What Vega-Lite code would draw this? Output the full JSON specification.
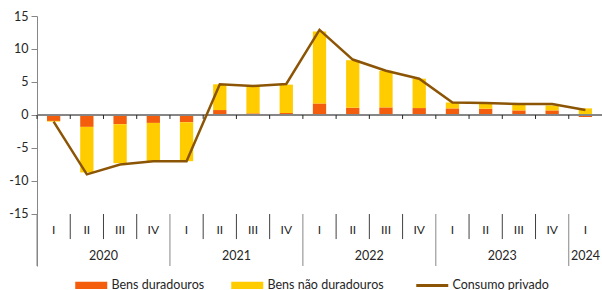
{
  "$schema": "https://vega.github.io/schema/vega-lite/v6.json",
  "width": 565,
  "height": 250,
  "autosize": {"type": "none"},
  "padding": {"left": 37, "top": 16, "right": 0, "bottom": 24},
  "background": "white",
  "config": {
    "font": "Lato",
    "view": {"stroke": null},
    "axis": {"labelFont": "Lato", "labelFontSize": 12.5, "labelColor": "#262626", "domainColor": "#868686", "tickColor": "#868686", "grid": false}
  },
  "datasets": {
    "parts": [
      {"q": "2020-I", "series": "Bens duradouros", "value": -0.9},
      {"q": "2020-I", "series": "Bens não duradouros", "value": -0.1},
      {"q": "2020-II", "series": "Bens duradouros", "value": -1.8},
      {"q": "2020-II", "series": "Bens não duradouros", "value": -6.9},
      {"q": "2020-III", "series": "Bens duradouros", "value": -1.4},
      {"q": "2020-III", "series": "Bens não duradouros", "value": -5.9},
      {"q": "2020-IV", "series": "Bens duradouros", "value": -1.2},
      {"q": "2020-IV", "series": "Bens não duradouros", "value": -5.8},
      {"q": "2021-I", "series": "Bens duradouros", "value": -1.1},
      {"q": "2021-I", "series": "Bens não duradouros", "value": -5.9},
      {"q": "2021-II", "series": "Bens duradouros", "value": 0.75},
      {"q": "2021-II", "series": "Bens não duradouros", "value": 3.9},
      {"q": "2021-III", "series": "Bens duradouros", "value": 0.25},
      {"q": "2021-III", "series": "Bens não duradouros", "value": 4.15},
      {"q": "2021-IV", "series": "Bens duradouros", "value": 0.3},
      {"q": "2021-IV", "series": "Bens não duradouros", "value": 4.3},
      {"q": "2022-I", "series": "Bens duradouros", "value": 1.75},
      {"q": "2022-I", "series": "Bens não duradouros", "value": 10.9},
      {"q": "2022-II", "series": "Bens duradouros", "value": 1.1},
      {"q": "2022-II", "series": "Bens não duradouros", "value": 7.2},
      {"q": "2022-III", "series": "Bens duradouros", "value": 1.15},
      {"q": "2022-III", "series": "Bens não duradouros", "value": 5.55},
      {"q": "2022-IV", "series": "Bens duradouros", "value": 1.05},
      {"q": "2022-IV", "series": "Bens não duradouros", "value": 4.45},
      {"q": "2023-I", "series": "Bens duradouros", "value": 1.0},
      {"q": "2023-I", "series": "Bens não duradouros", "value": 0.9},
      {"q": "2023-II", "series": "Bens duradouros", "value": 0.95},
      {"q": "2023-II", "series": "Bens não duradouros", "value": 0.85},
      {"q": "2023-III", "series": "Bens duradouros", "value": 0.7},
      {"q": "2023-III", "series": "Bens não duradouros", "value": 0.9},
      {"q": "2023-IV", "series": "Bens duradouros", "value": 0.7},
      {"q": "2023-IV", "series": "Bens não duradouros", "value": 0.75},
      {"q": "2024-I", "series": "Bens duradouros", "value": -0.3},
      {"q": "2024-I", "series": "Bens não duradouros", "value": 1.0}
    ],
    "totals": [
      {"q": "2020-I", "label": "I", "year": "2020", "total": -1.0},
      {"q": "2020-II", "label": "II", "year": "2020", "total": -9.0},
      {"q": "2020-III", "label": "III", "year": "2020", "total": -7.5},
      {"q": "2020-IV", "label": "IV", "year": "2020", "total": -7.0},
      {"q": "2021-I", "label": "I", "year": "2021", "total": -7.0},
      {"q": "2021-II", "label": "II", "year": "2021", "total": 4.65},
      {"q": "2021-III", "label": "III", "year": "2021", "total": 4.4},
      {"q": "2021-IV", "label": "IV", "year": "2021", "total": 4.7},
      {"q": "2022-I", "label": "I", "year": "2022", "total": 12.9},
      {"q": "2022-II", "label": "II", "year": "2022", "total": 8.4},
      {"q": "2022-III", "label": "III", "year": "2022", "total": 6.7},
      {"q": "2022-IV", "label": "IV", "year": "2022", "total": 5.5},
      {"q": "2023-I", "label": "I", "year": "2023", "total": 1.9},
      {"q": "2023-II", "label": "II", "year": "2023", "total": 1.8},
      {"q": "2023-III", "label": "III", "year": "2023", "total": 1.65},
      {"q": "2023-IV", "label": "IV", "year": "2023", "total": 1.65},
      {"q": "2024-I", "label": "I", "year": "2024", "total": 0.75}
    ]
  },
  "layer": [
    {
      "data": {"name": "parts"},
      "mark": {"type": "bar", "width": {"band": 0.4}},
      "encoding": {
        "x": {"field": "q", "type": "nominal", "sort": "ascending", "scale": {"paddingInner": 0, "paddingOuter": 0}, "axis": null},
        "y": {"field": "value", "type": "quantitative", "stack": "zero",
              "scale": {"domain": [-22.88, 15], "nice": false, "zero": false},
              "axis": {"values": [-15, -10, -5, 0, 5, 10, 15], "title": null, "tickSize": 6, "labelPadding": 3, "labelExpr": "'' + datum.value"}},
        "order": {"field": "series", "type": "nominal", "sort": "ascending"},
        "color": {"field": "series", "type": "nominal",
          "scale": {"domain": ["Bens duradouros", "Bens não duradouros", "Consumo privado"], "range": ["#F45D0B", "#FFCC00", "#8C5505"]},
          "legend": {
            "orient": "none", "legendX": 48, "legendY": 263, "direction": "horizontal", "title": null,
            "symbolSize": 1024, "columnPadding": 26, "labelFontSize": 12.5, "labelColor": "#262626", "labelFont": "Lato", "labelOffset": 14,
            "encode": {"symbols": {"update": {
              "shape": {"signal": "datum.value === 'Consumo privado' ? 'stroke' : 'M-1,-0.22H1V0.22H-1Z'"},
              "strokeWidth": {"signal": "datum.value === 'Consumo privado' ? 3 : 0"},
              "stroke": {"signal": "scale('color', datum.value)"},
              "fill": {"signal": "datum.value === 'Consumo privado' ? 'transparent' : scale('color', datum.value)"},
              "opacity": {"value": 1},
              "fillOpacity": {"value": 1}
            }}}
          }}
      }
    },
    {
      "data": {"name": "totals"},
      "mark": {"type": "rule", "color": "#868686", "strokeWidth": 1},
      "encoding": {"y": {"datum": 0}}
    },
    {
      "data": {"name": "totals"},
      "mark": {"type": "rule", "color": "#262626", "strokeWidth": 1},
      "encoding": {
        "x": {"field": "q", "type": "nominal", "bandPosition": 0},
        "y": {"datum": 0},
        "y2": {"datum": -0.6}
      }
    },
    {
      "data": {"name": "totals"},
      "transform": [{"filter": "datum.label !== 'I'"}],
      "mark": {"type": "rule", "color": "#404040", "strokeWidth": 1},
      "encoding": {
        "x": {"field": "q", "type": "nominal", "bandPosition": 0},
        "y": {"datum": -15},
        "y2": {"datum": -18.8}
      }
    },
    {
      "data": {"name": "totals"},
      "transform": [{"filter": "datum.label === 'I'"}],
      "mark": {"type": "rule", "color": "#868686", "strokeWidth": 1},
      "encoding": {
        "x": {"field": "q", "type": "nominal", "bandPosition": 0},
        "y": {"datum": -15},
        "y2": {"datum": -22.88}
      }
    },
    {
      "data": {"name": "totals"},
      "mark": {"type": "text", "fontSize": 12, "color": "#262626", "baseline": "middle", "align": "center"},
      "encoding": {
        "x": {"field": "q", "type": "nominal"},
        "y": {"datum": -17.5},
        "text": {"field": "label"}
      }
    },
    {
      "data": {"name": "totals"},
      "transform": [{"filter": "datum.label === 'III'"}],
      "mark": {"type": "text", "fontSize": 12.5, "color": "#262626", "baseline": "middle", "align": "center"},
      "encoding": {
        "x": {"field": "q", "type": "nominal", "bandPosition": 0},
        "y": {"datum": -21.4},
        "text": {"field": "year"}
      }
    },
    {
      "data": {"name": "totals"},
      "transform": [{"filter": "datum.q === '2024-I'"}],
      "mark": {"type": "text", "fontSize": 12.5, "color": "#262626", "baseline": "middle", "align": "center"},
      "encoding": {
        "x": {"field": "q", "type": "nominal"},
        "y": {"datum": -21.4},
        "text": {"field": "year"}
      }
    },
    {
      "data": {"name": "totals"},
      "mark": {"type": "line", "strokeWidth": 2.5},
      "encoding": {
        "x": {"field": "q", "type": "nominal"},
        "y": {"field": "total", "type": "quantitative"},
        "color": {"datum": "Consumo privado"}
      }
    }
  ]
}
